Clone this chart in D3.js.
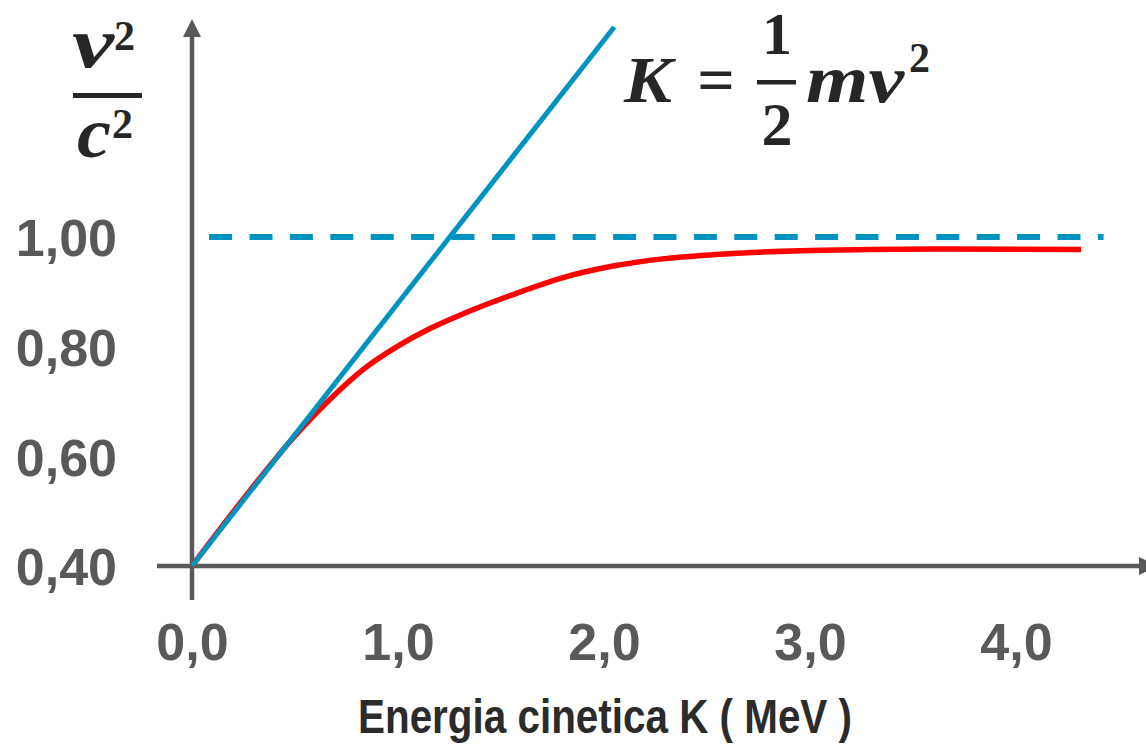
<!DOCTYPE html>
<html>
<head>
<meta charset="utf-8">
<script src="https://cdn.jsdelivr.net/npm/d3@7"></script>
<style>
  html, body { margin: 0; padding: 0; background: #fff; }
  svg { display: block; }
  .tick text { font-family: "Liberation Sans", Arial, sans-serif; font-weight: bold; font-size: 52px; fill: #595959; }
  .math { font-family: "Liberation Serif", "Times New Roman", serif; font-weight: bold; fill: #262626; }
</style>
</head>
<body>
<div id="chart"></div>
<script>
// kinetic energy (MeV) and v^2/c^2
const energy   = [0, 0.257, 0.49, 0.67, 0.83, 0.995, 1.155, 1.316, 1.558, 1.801, 2.044, 2.306, 2.626, 2.951, 3.277, 3.68, 4.316];
const velocity = [0.40, 0.526, 0.633, 0.704, 0.758, 0.800, 0.833, 0.860, 0.895, 0.926, 0.947, 0.961, 0.970, 0.975, 0.977, 0.978, 0.977];

// classical line K = 1/2 m v^2
const classicK = [0, 2.05];
const classicV = [0.40, 1.383];

// limit v = c
const limitK = [0.083, 4.425];
const limitV = [1.00, 1.00];

const xTicks = [0, 1, 2, 3, 4];
const yTicks = [0.40, 0.60, 0.80, 1.00];
const xTitle = "Energia cinetica K ( MeV )";

const width = 1146, height = 744;
const axisColor = "#595959";

const it = d3.formatLocale({decimal: ",", thousands: ".", grouping: [3], currency: ["", "€"]});

const svg = d3.select("#chart").append("svg")
  .attr("width", width)
  .attr("height", height);

const x = d3.scaleLinear().domain([0, 4]).range([192, 1016]);
const y = d3.scaleLinear().domain([0.40, 1.00]).range([566, 237]);

//assi
svg.append("line")
  .attr("x1", 157).attr("x2", 1140)
  .attr("y1", y(0.40)).attr("y2", y(0.40))
  .attr("stroke", axisColor).attr("stroke-width", 4.5);
svg.append("path")
  .attr("d", "M1139,557 L1158,566 L1139,575 Z")
  .attr("fill", axisColor);

svg.append("line")
  .attr("x1", x(0)).attr("x2", x(0))
  .attr("y1", 600).attr("y2", 36)
  .attr("stroke", axisColor).attr("stroke-width", 4.5);
svg.append("path")
  .attr("d", "M183,37 L192,19 L201,37 Z")
  .attr("fill", axisColor);

const xAxis = svg.append("g")
  .attr("transform", `translate(0,${y(0.40)})`)
  .call(d3.axisBottom(x).tickValues(xTicks).tickSize(0).tickPadding(57).tickFormat(it.format(".1f")));
xAxis.select(".domain").remove();

const yAxis = svg.append("g")
  .attr("transform", `translate(${x(0)},0)`)
  .call(d3.axisLeft(y).tickValues(yTicks).tickSize(0).tickPadding(75).tickFormat(it.format(".2f")));
yAxis.select(".domain").remove();
yAxis.selectAll(".tick text").attr("dy", "0.36em");

// curva relativistica
const pts = energy.map((k, i) => [k, velocity[i]]);
svg.append("path")
  .datum(pts)
  .attr("fill", "none")
  .attr("stroke", "#ff0000")
  .attr("stroke-width", 5.5)
  .attr("d", d3.line().x(d => x(d[0])).y(d => y(d[1])).curve(d3.curveMonotoneX));

// limite
svg.append("path")
  .datum(limitK.map((k, i) => [k, limitV[i]]))
  .attr("fill", "none")
  .attr("stroke", "#0093c0")
  .attr("stroke-width", 6)
  .attr("stroke-dasharray", "23,17.4")
  .attr("d", d3.line().x(d => x(d[0])).y(d => y(d[1])));

// classica
svg.append("path")
  .datum(classicK.map((k, i) => [k, classicV[i]]))
  .attr("fill", "none")
  .attr("stroke", "#0093c0")
  .attr("stroke-width", 5)
  .attr("d", d3.line().x(d => x(d[0])).y(d => y(d[1])));

// titolo asse x
svg.append("text")
  .attr("x", 358).attr("y", 733)
  .attr("textLength", 494)
  .attr("lengthAdjust", "spacingAndGlyphs")
  .style("font-family", '"Liberation Sans", Arial, sans-serif')
  .style("font-weight", "bold")
  .style("font-size", "48px")
  .style("fill", "#2b2b2b")
  .text(xTitle);

// v^2 / c^2
const m = svg.append("g").attr("class", "math");
m.append("text").attr("x", 72).attr("y", 67).attr("textLength", 42).attr("lengthAdjust", "spacingAndGlyphs")
  .style("font-size", "72px").style("font-style", "italic").text("v");
m.append("text").attr("x", 114).attr("y", 50).style("font-size", "42px").text("2");
m.append("rect").attr("x", 73).attr("y", 93).attr("width", 69).attr("height", 5).attr("fill", "#262626");
m.append("text").attr("x", 77).attr("y", 157).attr("textLength", 34).attr("lengthAdjust", "spacingAndGlyphs")
  .style("font-size", "72px").style("font-style", "italic").text("c");
m.append("text").attr("x", 112).attr("y", 138).style("font-size", "42px").text("2");

// K = 1/2 m v^2
m.append("text").attr("x", 624).attr("y", 102).attr("textLength", 48).attr("lengthAdjust", "spacingAndGlyphs")
  .style("font-size", "66px").style("font-style", "italic").text("K");
m.append("text").attr("x", 716).attr("y", 102).attr("text-anchor", "middle").style("font-size", "66px").text("=");
m.append("text").attr("x", 777).attr("y", 54).attr("text-anchor", "middle").style("font-size", "60px").text("1");
m.append("rect").attr("x", 757).attr("y", 80).attr("width", 39).attr("height", 4.5).attr("fill", "#262626");
m.append("text").attr("x", 777).attr("y", 145).attr("text-anchor", "middle").style("font-size", "62px").text("2");
m.append("text").attr("x", 806).attr("y", 102).attr("textLength", 98).attr("lengthAdjust", "spacingAndGlyphs")
  .style("font-size", "68px").style("font-style", "italic").text("mv");
m.append("text").attr("x", 909).attr("y", 72).style("font-size", "42px").text("2");
</script>
</body>
</html>
